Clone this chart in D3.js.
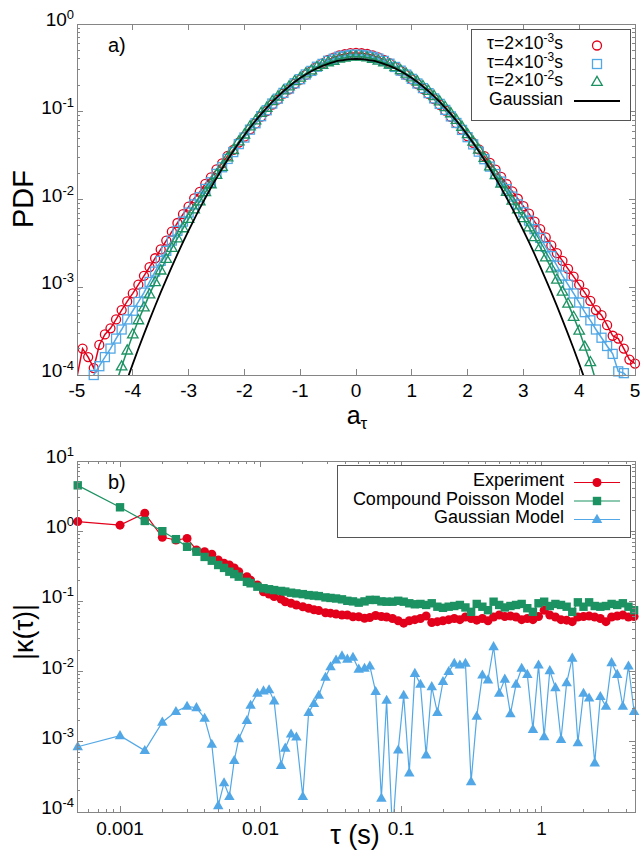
<!DOCTYPE html>
<html><head><meta charset="utf-8">
<script src="https://cdn.jsdelivr.net/npm/d3@7"></script>
<style>
body{margin:0;background:#fff}
svg{display:block}
text{font-family:"Liberation Sans",Arial,Helvetica,sans-serif;fill:#000}
</style>
</head><body>
<svg id="c" width="642" height="852"></svg>
<script>
// ---------------- Panel a) data : PDF of a_tau ----------------
const aBins = [-5.0,-4.9,-4.8,-4.7,-4.6,-4.5,-4.4,-4.3,-4.2,-4.1,-4.0,-3.9,-3.8,-3.7,-3.6,-3.5,-3.4,-3.3,-3.2,-3.1,
  -3.0,-2.9,-2.8,-2.7,-2.6,-2.5,-2.4,-2.3,-2.2,-2.1,-2.0,-1.9,-1.8,-1.7,-1.6,-1.5,-1.4,-1.3,-1.2,-1.1,
  -1.0,-0.9,-0.8,-0.7,-0.6,-0.5,-0.4,-0.3,-0.2,-0.1,0.0,0.1,0.2,0.3,0.4,0.5,0.6,0.7,0.8,0.9,
  1.0,1.1,1.2,1.3,1.4,1.5,1.6,1.7,1.8,1.9,2.0,2.1,2.2,2.3,2.4,2.5,2.6,2.7,2.8,2.9,
  3.0,3.1,3.2,3.3,3.4,3.5,3.6,3.7,3.8,3.9,4.0,4.1,4.2,4.3,4.4,4.5,4.6,4.7,4.8,4.9,5.0];

const pdfTau2ms = [9.5e-5,2.0e-4,1.6e-4,1.2e-4,2.2e-4,2.9e-4,3.4e-4,4.3e-4,5.5e-4,6.9e-4,
  8.5e-4,1.07e-3,1.35e-3,1.7e-3,2.14e-3,2.7e-3,3.4e-3,4.3e-3,5.4e-3,6.8e-3,
  0.0083,0.0103,0.0122,0.0151,0.0179,0.0221,0.0258,0.0314,0.0368,0.0445,
  0.0520,0.0630,0.0735,0.0880,0.102,0.121,0.138,0.161,0.180,0.208,
  0.232,0.263,0.290,0.325,0.355,0.390,0.414,0.440,0.452,0.466,
  0.468,
  0.464,0.455,0.439,0.417,0.389,0.357,0.324,0.292,0.262,0.234,
  0.207,0.182,0.160,0.139,0.120,0.103,0.0875,0.0741,0.0625,0.0525,
  0.0442,0.0372,0.0312,0.0261,0.0219,0.0181,0.0150,0.0124,0.0102,0.0084,
  0.0069,0.0056,0.0046,0.0037,0.0030,0.00245,0.0020,0.00162,0.00132,0.00107,
  8.7e-4,7.0e-4,5.5e-4,4.8e-4,3.7e-4,2.8e-4,2.6e-4,2.0e-4,1.5e-4,1.35e-4];

const pdfTau4ms = [4e-5,5e-5,7e-5,1.0e-4,1.26e-4,1.6e-4,2.0e-4,2.6e-4,3.3e-4,4.3e-4,
  5.4e-4,6.8e-4,8.7e-4,1.15e-3,1.51e-3,2.0e-3,2.6e-3,3.4e-3,4.4e-3,5.6e-3,
  0.0071,0.0088,0.0106,0.0132,0.0157,0.0196,0.0233,0.0290,0.0347,0.0428,
  0.0508,0.0625,0.0740,0.0890,0.104,0.124,0.141,0.164,0.184,0.211,
  0.235,0.266,0.292,0.326,0.351,0.381,0.402,0.424,0.434,0.445,
  0.447,
  0.444,0.436,0.422,0.404,0.380,0.353,0.324,0.294,0.265,0.237,
  0.210,0.186,0.163,0.142,0.123,0.105,0.0885,0.0745,0.0621,0.0513,
  0.0425,0.0351,0.0288,0.0237,0.0195,0.0160,0.0131,0.0108,0.0088,0.00716,
  0.00575,0.00459,0.00365,0.00288,0.00226,0.00176,0.00136,0.00107,8.5e-4,6.7e-4,
  5.2e-4,4.2e-4,3.3e-4,2.66e-4,2.14e-4,1.74e-4,1.1e-4,1.05e-4,9e-5,7e-5];

const pdfTau20ms = [null,null,null,null,null,null,5e-5,8e-5,1.25e-4,1.9e-4,
  2.9e-4,4.2e-4,5.9e-4,8.3e-4,1.14e-3,1.55e-3,0.0021,0.0028,0.0036,0.0047,
  0.0060,0.0077,0.0095,0.0121,0.0149,0.0191,0.0235,0.0301,0.0366,0.0460,
  0.0550,0.0682,0.0798,0.0970,0.111,0.132,0.149,0.175,0.194,0.223,
  0.244,0.274,0.296,0.324,0.343,0.366,0.381,0.403,0.413,0.425,
  0.427,
  0.424,0.415,0.401,0.383,0.365,0.345,0.322,0.298,0.272,0.246,
  0.221,0.196,0.173,0.151,0.131,0.113,0.0960,0.0808,0.0674,0.0556,
  0.0455,0.0370,0.0298,0.0238,0.0190,0.0152,0.0122,0.00968,0.00773,0.00614,
  0.00481,0.00373,0.00287,0.00219,0.00164,0.00122,8.9e-4,6.5e-4,4.6e-4,3.2e-4,
  2.1e-4,1.4e-4,8.5e-5,5e-5,null,null,null,null,null,null];

const gaussA = [-4.2,-4.1,-4.0,-3.9,-3.8,-3.7,-3.6,-3.5,-3.4,-3.3,-3.2,-3.1,-3.0,-2.9,-2.8,-2.7,-2.6,-2.5,-2.4,-2.3,
  -2.2,-2.1,-2.0,-1.9,-1.8,-1.7,-1.6,-1.5,-1.4,-1.3,-1.2,-1.1,-1.0,-0.9,-0.8,-0.7,-0.6,-0.5,-0.4,-0.3,
  -0.2,-0.1,0.0,0.1,0.2,0.3,0.4,0.5,0.6,0.7,0.8,0.9,1.0,1.1,1.2,1.3,1.4,1.5,1.6,1.7,
  1.8,1.9,2.0,2.1,2.2,2.3,2.4,2.5,2.6,2.7,2.8,2.9,3.0,3.1,3.2,3.3,3.4,3.5,3.6,3.7,3.8,3.9,4.0,4.1,4.2];
const gaussPdf = [5.89e-5,8.93e-5,1.34e-4,1.99e-4,2.92e-4,4.25e-4,6.12e-4,8.73e-4,0.00123,0.00172,
  0.00238,0.00327,0.00443,0.00595,0.00792,0.0104,0.0136,0.0175,0.0224,0.0283,
  0.0355,0.0440,0.0540,0.0656,0.0790,0.0940,0.1109,0.1295,0.1497,0.1714,
  0.1942,0.2179,0.2420,0.2661,0.2897,0.3123,0.3332,0.3521,0.3683,0.3814,
  0.3910,0.3970,0.3989,0.3970,0.3910,0.3814,0.3683,0.3521,0.3332,0.3123,
  0.2897,0.2661,0.2420,0.2179,0.1942,0.1714,0.1497,0.1295,0.1109,0.0940,
  0.0790,0.0656,0.0540,0.0440,0.0355,0.0283,0.0224,0.0175,0.0136,0.0104,
  0.00792,0.00595,0.00443,0.00327,0.00238,0.00172,0.00123,8.73e-4,6.12e-4,4.25e-4,
  2.92e-4,1.99e-4,1.34e-4,8.93e-5,5.89e-5];

const xTicksA = [-5,-4,-3,-2,-1,0,1,2,3,4,5];
const yTicksA = [1e-4,1e-3,1e-2,1e-1,1];

// ---------------- Panel b) data : |kappa(tau)| ----------------
const tauSeconds = [0.0005,0.001,0.0015,0.002,0.0025,0.003,0.0035,0.004,0.0045,
  0.005,0.0055,0.006,0.0065,0.007,0.008,0.0085,0.0095,0.0105,0.0115,0.0125,0.014,0.015,0.0165,0.018,0.02,0.022,0.024,0.026,
  0.029,0.0315,0.0345,0.038,0.0415,0.0455,
  0.05,0.055,0.06,0.066,0.0725,0.079,0.087,0.0955,0.1045,0.1145,0.1255,0.1375,0.151,0.1655,0.1815,0.199,0.2185,0.2395,0.2625,0.2875,0.3155,0.346,0.3795,0.416,0.456,
  0.5,0.548,0.601,0.659,0.7225,0.7925,0.869,0.9525,1.0445,1.1455,1.256,1.377,1.51,1.6555,1.8155,1.9905,2.1825,2.393,2.624,2.877,3.155,3.459,3.793,4.159,4.56];

const kappaExperiment = [1.37,1.22,1.8,0.82,0.75,0.79,0.54,0.51,0.47,
  0.39,0.35,0.33,0.30,0.265,0.225,0.20,0.171,0.137,0.127,0.117,0.108,0.099,0.094,0.089,0.084,0.080,0.076,0.074,
  0.069,0.068,0.066,0.064,0.064,0.0605,
  0.0605,0.0575,0.059,0.063,0.061,0.060,0.057,0.053,0.049,0.053,0.055,0.057,0.062,0.050,0.0515,0.053,0.055,0.057,0.055,0.060,0.057,0.054,0.057,0.053,0.060,
  0.064,0.061,0.062,0.060,0.055,0.057,0.055,0.061,0.075,0.064,0.060,0.055,0.054,0.0515,0.060,0.061,0.062,0.060,0.057,0.0515,0.060,0.062,0.064,0.060,0.061];

const kappaPoisson = [4.5,2.19,1.4,1.0,0.77,0.60,0.51,0.43,0.38,
  0.33,0.30,0.265,0.245,0.225,0.19,0.181,0.162,0.154,0.149,0.145,0.141,0.138,0.133,0.130,0.127,0.123,0.121,0.119,
  0.114,0.112,0.110,0.107,0.102,0.100,
  0.096,0.100,0.105,0.105,0.100,0.099,0.099,0.102,0.099,0.094,0.091,0.092,0.089,0.094,0.084,0.081,0.084,0.086,0.089,0.082,0.071,0.092,0.084,0.075,0.099,
  0.089,0.082,0.086,0.089,0.092,0.080,0.071,0.094,0.099,0.086,0.092,0.089,0.084,0.071,0.097,0.084,0.097,0.086,0.084,0.086,0.092,0.089,0.094,0.084,0.075];

const kappaGaussian = [8.5e-4,1.22e-3,7.5e-4,1.9e-3,2.7e-3,3.2e-3,3.06e-3,2.16e-3,9.2e-4,
  1.23e-4,2.6e-4,1.66e-4,5.4e-4,1.1e-3,2.0e-3,3.3e-3,4.9e-3,5.3e-3,5.5e-3,3.8e-3,4.6e-4,8.1e-4,1.29e-3,1.17e-3,1.66e-4,2.6e-3,3.5e-3,4.6e-3,
  8.3e-3,1.17e-2,1.46e-2,1.67e-2,1.50e-2,1.60e-2,
  1.08e-2,1.11e-2,1.20e-2,5.2e-3,1.57e-4,3.9e-3,5e-5,7.6e-4,4.6e-3,3.6e-4,9.4e-3,6.6e-3,6.5e-4,6.1e-3,2.6e-3,7.2e-3,1.0e-2,1.31e-2,1.24e-2,1.31e-2,2.7e-4,2.3e-3,8.9e-3,7.6e-3,2.26e-2,
  4.9e-3,7.8e-3,2.5e-3,6.6e-3,1.11e-2,9.1e-3,1.5e-3,1.24e-2,1.18e-3,1.03e-2,5.9e-3,1.08e-3,6.9e-3,1.55e-2,9.7e-4,4.9e-3,4.2e-3,5.0e-4,4.4e-3,3.2e-3,1.34e-2,9.1e-3,3.2e-3,1.2e-2,2.7e-3];

const xTicksB = [0.001,0.01,0.1,1];
const xTickLabelsB = ["0.001","0.01","0.1","1"];
const yTicksB = [1e-4,1e-3,1e-2,1e-1,1,10];

const legendA = ["τ=2×10|-3|s","τ=4×10|-3|s","τ=2×10|-2|s"];
const legendB = ["Experiment","Compound Poisson Model","Gaussian Model"];

// ---------------- styles ----------------
const RED = "#e2001a", BLUE = "#52a8e6", GREEN = "#1c9262", GRAY = "#858585";

const svg = d3.select("#c");

function minorDecades(lo, hi) {
  const out = [];
  for (let e = lo; e < hi; e++) for (let m = 2; m <= 9; m++) out.push(m * Math.pow(10, e));
  return out;
}

function frameTicks(g, xs, ys, xMaj, xMin, yMaj, yMin) {
  const [x0, x1] = xs.range(), [y0, y1] = ys.range();
  const t = g.append("g").attr("stroke", GRAY).attr("stroke-width", 1).attr("shape-rendering", "crispEdges");
  const seg = (a, b, c, d) => t.append("line").attr("x1", a).attr("y1", b).attr("x2", c).attr("y2", d);
  xMaj.forEach(v => { const p = xs(v); seg(p, y0, p, y0 - 6); seg(p, y1, p, y1 + 6); });
  xMin.forEach(v => { const p = xs(v); if (p > x0 + 1 && p < x1 - 1) { seg(p, y0, p, y0 - 3); seg(p, y1, p, y1 + 3); } });
  yMaj.forEach(v => { const p = ys(v); seg(x0, p, x0 + 6, p); seg(x1, p, x1 - 6, p); });
  yMin.forEach(v => { const p = ys(v); if (p < y0 - 1 && p > y1 + 1) { seg(x0, p, x0 + 3, p); seg(x1, p, x1 - 3, p); } });
  t.append("rect").attr("x", x0).attr("y", y1).attr("width", x1 - x0).attr("height", y0 - y1).attr("fill", "none");
}

function yPowerLabels(g, ys, vals) {
  vals.forEach(v => {
    const e = Math.round(Math.log10(v));
    const t = g.append("text").attr("x", 74).attr("y", ys(v) + 2).attr("text-anchor", "end").attr("font-size", 19);
    t.append("tspan").text("10");
    t.append("tspan").attr("dy", -7).attr("font-size", 13).text(String(e));
  });
}

function triPath(s) { // triangle centred on the point
  const h = s * 0.866;
  return `M0,${-h * 0.62}L${s / 2},${h * 0.38}L${-s / 2},${h * 0.38}Z`;
}

// ================= Panel a =================
const xA = d3.scaleLinear().domain([-5, 5]).range([77, 635]);
const yA = d3.scaleLog().domain([1e-4, 1]).range([375, 24]);
const gA = svg.append("g");
svg.append("defs").append("clipPath").attr("id", "clipA").append("rect")
  .attr("x", 77).attr("y", 24).attr("width", 558).attr("height", 351);

const seriesA = [
  { vals: pdfTau2ms, color: RED, shape: "circle" },
  { vals: pdfTau4ms, color: BLUE, shape: "square" },
  { vals: pdfTau20ms, color: GREEN, shape: "triangle" }
];
const lineA = d3.line().defined(d => d.v != null).x(d => xA(d.a)).y(d => yA(d.v));
seriesA.forEach(s => {
  const pts = aBins.map((a, i) => ({ a, v: s.vals[i] }));
  gA.append("path").datum(pts).attr("d", lineA).attr("fill", "none")
    .attr("stroke", s.color).attr("stroke-width", 1.5).attr("clip-path", "url(#clipA)");
  const vis = pts.filter(d => d.v != null && d.v >= 1e-4);
  const mg = gA.append("g").attr("fill", "none").attr("stroke", s.color).attr("stroke-width", 1.3);
  if (s.shape === "circle") {
    mg.selectAll("circle").data(vis).join("circle").attr("cx", d => xA(d.a)).attr("cy", d => yA(d.v)).attr("r", 4.5);
  } else if (s.shape === "square") {
    mg.selectAll("rect").data(vis).join("rect").attr("x", d => xA(d.a) - 4.5).attr("y", d => yA(d.v) - 4.5)
      .attr("width", 9).attr("height", 9);
  } else {
    mg.selectAll("path").data(vis).join("path").attr("d", triPath(10.5))
      .attr("transform", d => `translate(${xA(d.a)},${yA(d.v)})`);
  }
});
gA.append("path").datum(gaussA.map((a, i) => ({ a, v: gaussPdf[i] })))
  .attr("d", lineA.curve(d3.curveMonotoneX)).attr("fill", "none").attr("stroke", "#000").attr("stroke-width", 1.8)
  .attr("clip-path", "url(#clipA)");

frameTicks(gA, xA, yA, xTicksA, [], yTicksA, minorDecades(-4, 0));
yPowerLabels(gA, yA, yTicksA);
xTicksA.forEach(v => gA.append("text").attr("x", xA(v)).attr("y", 397).attr("text-anchor", "middle")
  .attr("font-size", 19).text(String(v)));

gA.append("text").attr("transform", "translate(33,199) rotate(-90)").attr("text-anchor", "middle")
  .attr("font-size", 29).text("PDF");
const xl = gA.append("text").attr("x", 357).attr("y", 424).attr("text-anchor", "middle").attr("font-size", 25);
xl.append("tspan").text("a");
xl.append("tspan").attr("dy", 5).attr("font-size", 17).text("τ");
gA.append("text").attr("x", 108).attr("y", 52).attr("font-size", 20).text("a)");

// legend a
const lgA = gA.append("g");
lgA.append("rect").attr("x", 471.5).attr("y", 29.5).attr("width", 159).attr("height", 91)
  .attr("fill", "#fff").attr("stroke", "#555").attr("stroke-width", 1);
const baseA = [49, 67.5, 86, 104.5];
legendA.forEach((lab, i) => {
  const parts = lab.split("|");
  const t = lgA.append("text").attr("x", 563).attr("y", baseA[i]).attr("text-anchor", "end").attr("font-size", 17.5);
  t.append("tspan").text(parts[0]);
  t.append("tspan").attr("dy", -7).attr("font-size", 12).text(parts[1]);
  t.append("tspan").attr("dy", 7).text(parts[2]);
});
lgA.append("text").attr("x", 563).attr("y", baseA[3]).attr("text-anchor", "end").attr("font-size", 17.5).text("Gaussian");
lgA.append("circle").attr("cx", 597).attr("cy", 45.5).attr("r", 4.5).attr("fill", "none").attr("stroke", RED).attr("stroke-width", 1.3);
lgA.append("rect").attr("x", 592.5).attr("y", 59.5).attr("width", 9).attr("height", 9).attr("fill", "none").attr("stroke", BLUE).attr("stroke-width", 1.3);
lgA.append("path").attr("d", triPath(10.5)).attr("transform", "translate(597,82)").attr("fill", "none").attr("stroke", GREEN).attr("stroke-width", 1.3);
lgA.append("line").attr("x1", 574).attr("x2", 620).attr("y1", 101).attr("y2", 101).attr("stroke", "#000").attr("stroke-width", 1.8);

// ================= Panel b =================
const xB = d3.scaleLog().domain([0.000494, 4.63]).range([77, 635]);
const yB = d3.scaleLog().domain([1e-4, 10]).range([812, 461]);
const gB = svg.append("g");
svg.select("defs").append("clipPath").attr("id", "clipB").append("rect")
  .attr("x", 77).attr("y", 461).attr("width", 558).attr("height", 351);

const seriesB = [
  { vals: kappaExperiment, color: RED, shape: "circle" },
  { vals: kappaPoisson, color: GREEN, shape: "square" },
  { vals: kappaGaussian, color: BLUE, shape: "triangle" }
];
const lineB = d3.line().x(d => xB(d.t)).y(d => yB(d.v));
seriesB.forEach(s => {
  const pts = tauSeconds.map((t, i) => ({ t, v: s.vals[i] }));
  gB.append("path").datum(pts).attr("d", lineB).attr("fill", "none").attr("stroke", s.color)
    .attr("stroke-width", 1.2).attr("clip-path", "url(#clipB)");
  const vis = pts.filter(d => d.v >= 1e-4 && d.v <= 10);
  const mg = gB.append("g").attr("fill", s.color);
  if (s.shape === "circle") {
    mg.selectAll("circle").data(vis).join("circle").attr("cx", d => xB(d.t)).attr("cy", d => yB(d.v)).attr("r", 4.5);
  } else if (s.shape === "square") {
    mg.selectAll("rect").data(vis).join("rect").attr("x", d => xB(d.t) - 4.2).attr("y", d => yB(d.v) - 4.2)
      .attr("width", 8.4).attr("height", 8.4);
  } else {
    mg.selectAll("path").data(vis).join("path").attr("d", triPath(10.5))
      .attr("transform", d => `translate(${xB(d.t)},${yB(d.v)})`);
  }
});

const xMinB = [0.0006,0.0007,0.0008,0.0009].concat(minorDecades(-3, 0), [2, 3, 4]);
frameTicks(gB, xB, yB, xTicksB, xMinB, yTicksB, minorDecades(-4, 1));
yPowerLabels(gB, yB, yTicksB);
xTicksB.forEach((v, i) => gB.append("text").attr("x", xB(v)).attr("y", 835).attr("text-anchor", "middle")
  .attr("font-size", 19).text(xTickLabelsB[i]));

gB.append("text").attr("transform", "translate(33,632) rotate(-90)").attr("text-anchor", "middle")
  .attr("font-size", 27).text("|κ(τ)|");
gB.append("text").attr("x", 355).attr("y", 844).attr("text-anchor", "middle").attr("font-size", 27).text("τ (s)");
gB.append("text").attr("x", 108).attr("y", 489).attr("font-size", 20).text("b)");

// legend b
const lgB = gB.append("g");
lgB.append("rect").attr("x", 337.5).attr("y", 465.5).attr("width", 293).attr("height", 72)
  .attr("fill", "#fff").attr("stroke", "#555").attr("stroke-width", 1);
const baseB = [486, 504.5, 523];
legendB.forEach((lab, i) => {
  lgB.append("text").attr("x", 564).attr("y", baseB[i]).attr("text-anchor", "end").attr("font-size", 18).text(lab);
  const s = seriesB[i], cy = baseB[i] - 3.5;
  lgB.append("line").attr("x1", 574).attr("x2", 620).attr("y1", cy).attr("y2", cy).attr("stroke", s.color).attr("stroke-width", 1.2);
  if (s.shape === "circle") lgB.append("circle").attr("cx", 597).attr("cy", cy).attr("r", 4.5).attr("fill", s.color);
  else if (s.shape === "square") lgB.append("rect").attr("x", 592.8).attr("y", cy - 4.2).attr("width", 8.4).attr("height", 8.4).attr("fill", s.color);
  else lgB.append("path").attr("d", triPath(10.5)).attr("transform", `translate(597,${cy})`).attr("fill", s.color);
});
</script>
</body></html>
